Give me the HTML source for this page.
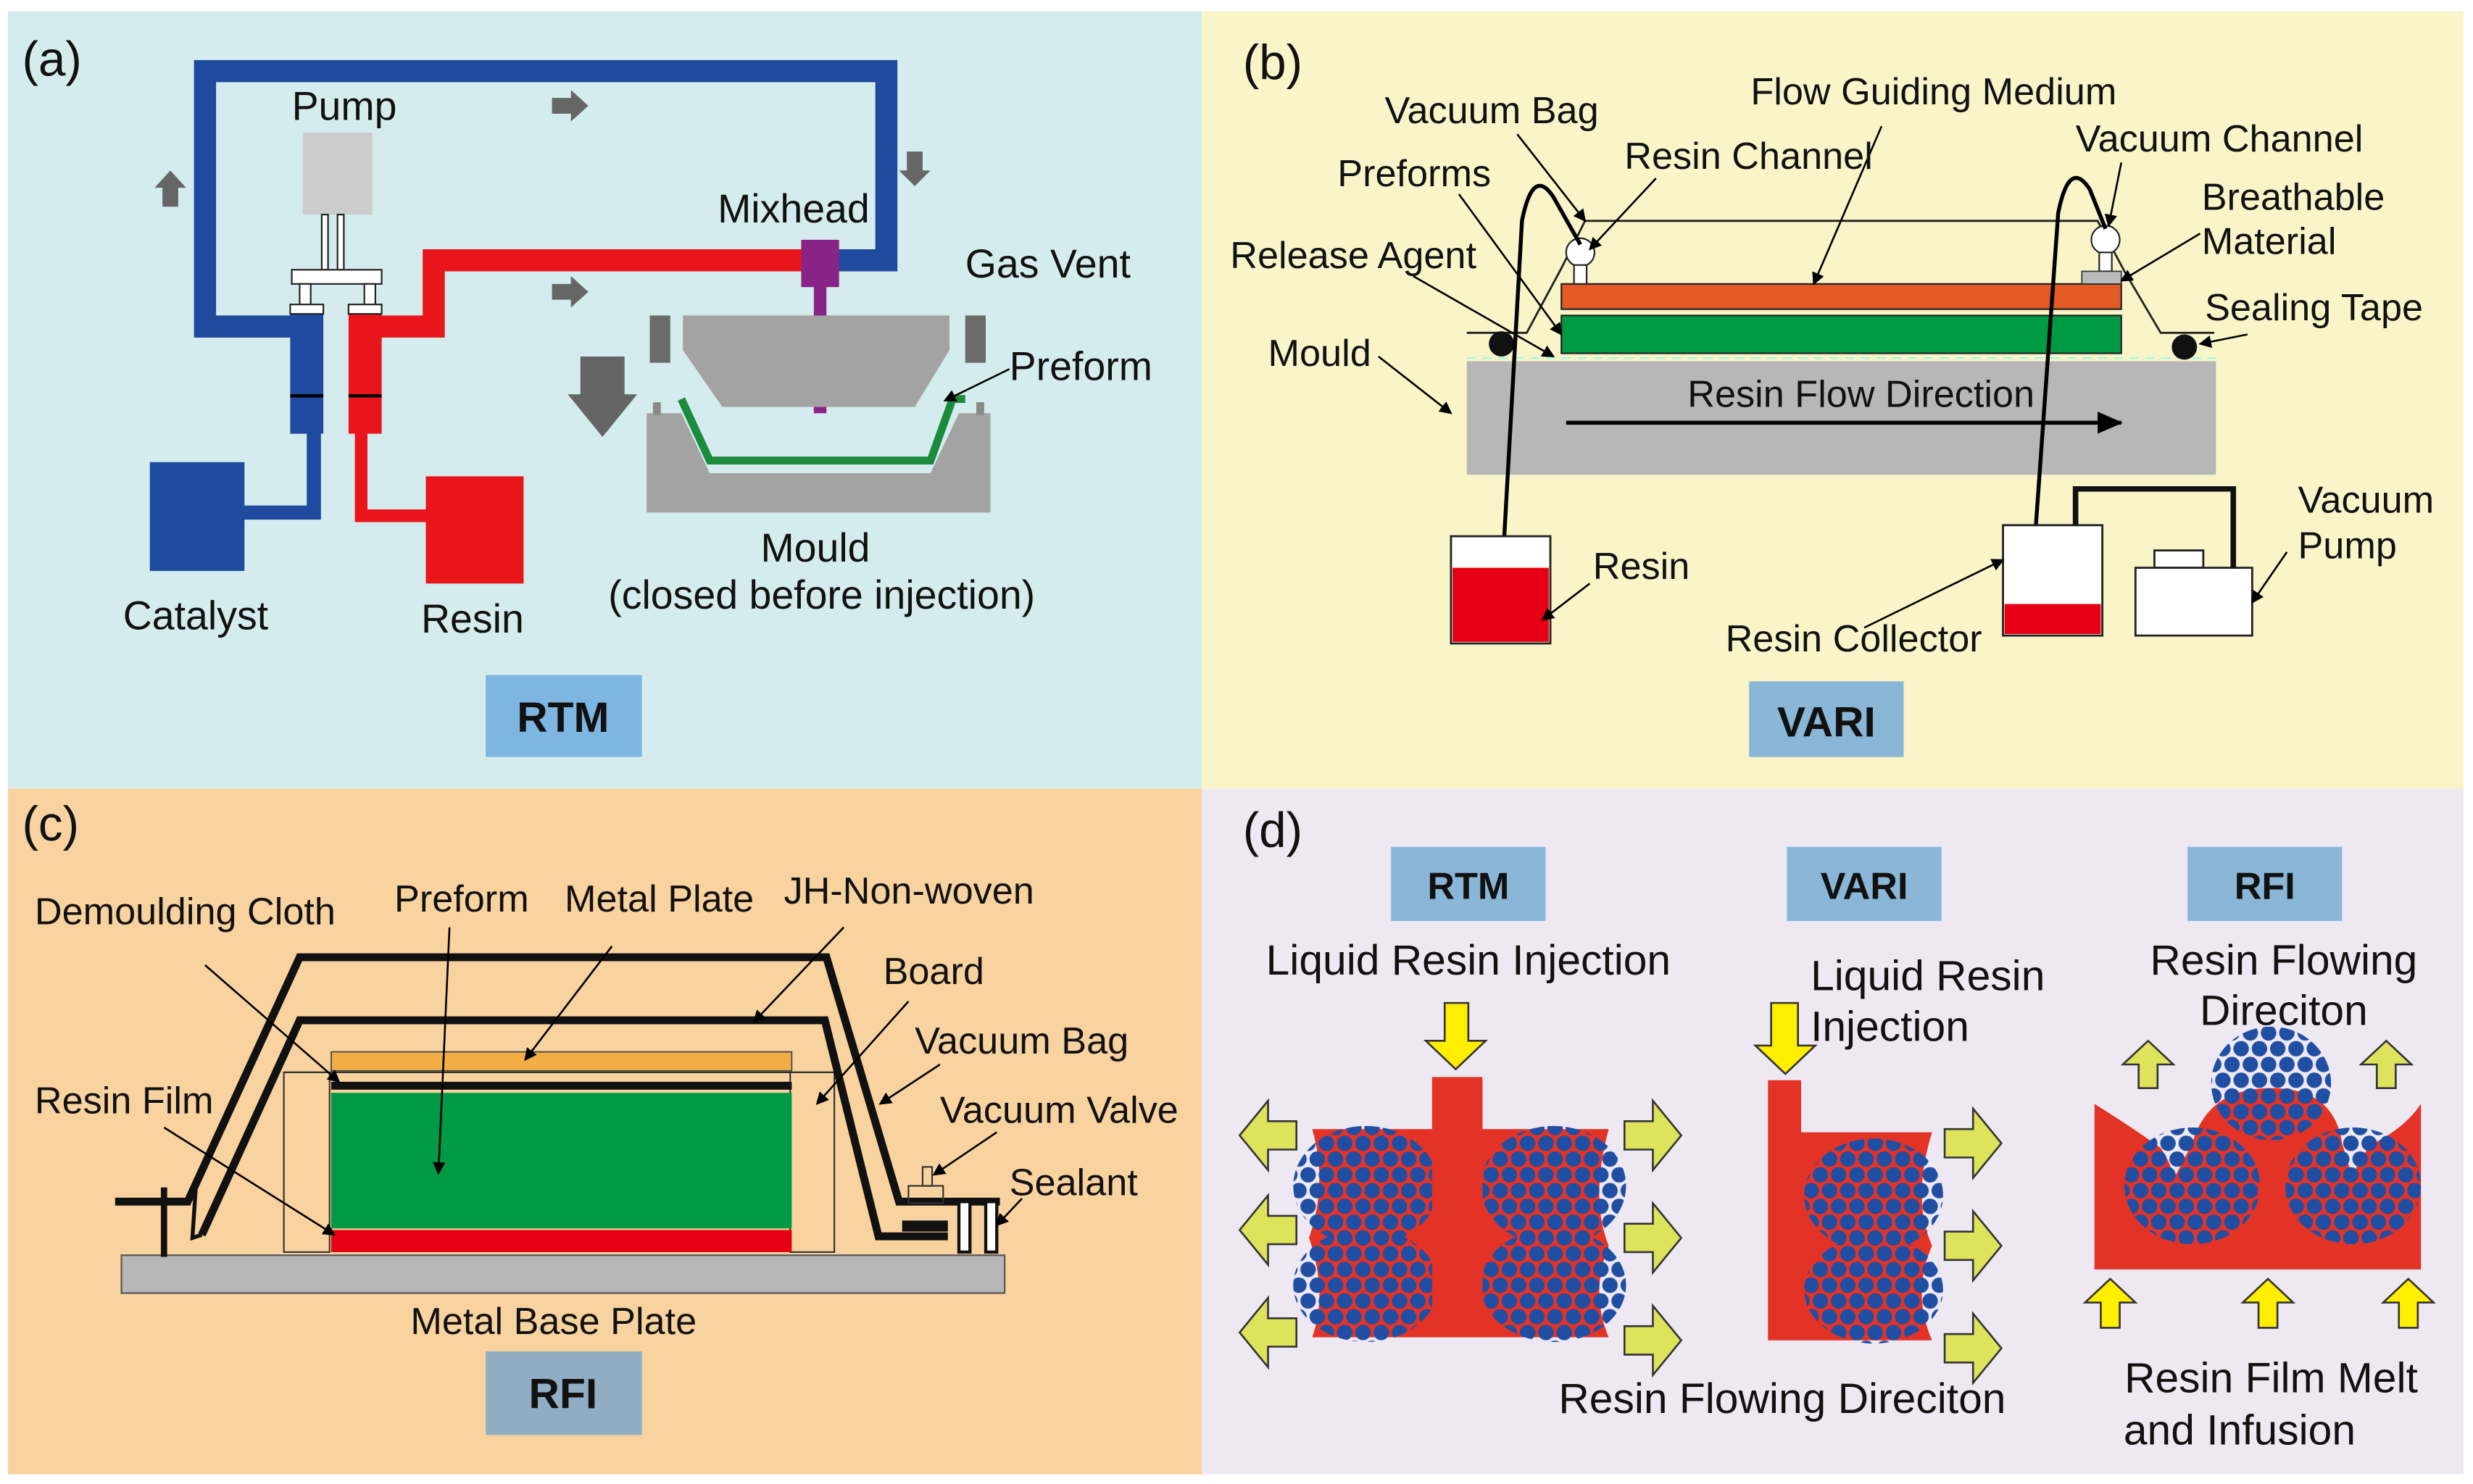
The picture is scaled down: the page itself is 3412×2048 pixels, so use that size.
<!DOCTYPE html>
<html><head><meta charset="utf-8"><style>
html,body{margin:0;padding:0;background:#fff}
svg{display:block}
text{font-family:"Liberation Sans",sans-serif;font-size:24px;fill:#111}
.a{font-size:25.5px}
.d{font-size:27px}
.b{font-weight:bold;font-size:27px}
.p{font-size:31px}
</style></head><body>
<svg width="3412" height="2048" viewBox="0 0 1568 941" xmlns="http://www.w3.org/2000/svg">
<defs>
<pattern id="fib" width="11.6" height="20" patternUnits="userSpaceOnUse">
<circle cx="5.8" cy="5" r="4.9" fill="#1f4ea3"/><circle cx="0" cy="15" r="4.9" fill="#1f4ea3"/><circle cx="11.6" cy="15" r="4.9" fill="#1f4ea3"/>
</pattern>
<marker id="ar" markerWidth="8" markerHeight="8" refX="7" refY="4" orient="auto" markerUnits="userSpaceOnUse"><path d="M0,0 L8,4 L0,8 z" fill="#000"/></marker>
<marker id="ar2" markerWidth="16" markerHeight="14" refX="15" refY="7" orient="auto" markerUnits="userSpaceOnUse"><path d="M0,0 L16,7 L0,14 z" fill="#000"/></marker>
<g id="yl"><path d="M0,-9 L18,-9 L18,-22 L36,0 L18,22 L18,9 L0,9 z" fill="#dde35a" stroke="#333" stroke-width="1.2"/></g>
</defs>
<rect width="1568" height="941" fill="#fff"/>
<rect x="5" y="7" width="757" height="493" fill="#d5ecee"/>
<rect x="762" y="7" width="800" height="493" fill="#faf4c9"/>
<rect x="5" y="500" width="757" height="435" fill="#f9d39f"/>
<rect x="762" y="500" width="800" height="435" fill="#eee8f3"/>

<!-- Panel a -->
<text x="14" y="48" class="p">(a)</text>
<path d="M190 207 H130 V45 H562 V165 H530" fill="none" stroke="#1f4a9e" stroke-width="14"/>
<path d="M232 207 H275 V165 H512" fill="none" stroke="#e8161b" stroke-width="14"/>
<path d="M199 270 V325 H150" fill="none" stroke="#1f4a9e" stroke-width="9"/>
<path d="M229 270 V327 H275" fill="none" stroke="#e8161b" stroke-width="8"/>
<rect x="95" y="293" width="60" height="69" fill="#1f4a9e"/>
<rect x="270" y="302" width="62" height="68" fill="#e8161b"/>
<rect x="184" y="198" width="21" height="77" fill="#1f4a9e"/>
<rect x="221" y="198" width="21" height="77" fill="#e8161b"/>
<line x1="184" y1="251" x2="205" y2="251" stroke="#000" stroke-width="2"/>
<line x1="221" y1="251" x2="242" y2="251" stroke="#000" stroke-width="2"/>
<rect x="192" y="84" width="44" height="52" fill="#cccccc"/>
<g fill="#fff" stroke="#222" stroke-width="1">
<rect x="204" y="136" width="4" height="35"/><rect x="214" y="136" width="4" height="35"/>
<rect x="185" y="171" width="57" height="9"/>
<rect x="190" y="180" width="7" height="13"/><rect x="231" y="180" width="7" height="13"/>
<rect x="184" y="193" width="21" height="6"/><rect x="221" y="193" width="21" height="6"/>
</g>
<rect x="516" y="180" width="8" height="82" fill="#8a2386"/>
<rect x="508" y="152" width="24" height="30" fill="#8a2386"/>
<path d="M433 200 H602 V222 L580 258 H458 L433 222 z" fill="#a3a3a3"/>
<rect x="412" y="200" width="13" height="30" fill="#6b6b6b"/>
<rect x="612" y="200" width="13" height="30" fill="#6b6b6b"/>
<path d="M410 262 H432 L450 300 H590 L608 262 H628 V325 H410 z" fill="#a3a3a3"/>
<rect x="414" y="255" width="5" height="8" fill="#8a8a8a"/><rect x="619" y="255" width="5" height="8" fill="#8a8a8a"/>
<polyline points="432,253 450,292 590,292 604,253 612,253" fill="none" stroke="#1c8b3e" stroke-width="5"/>
<path d="M368 226 H396 V250 H404 L382 277 L360 250 H368 z" fill="#656565"/>
<path d="M350 62 H362 V57 L373 67 L362 77 V72 H350 z" fill="#666"/>
<path d="M350 180 H362 V175 L373 185 L362 195 V190 H350 z" fill="#666"/>
<path d="M103 131 V119 H98 L108 108 L118 119 H113 V131 z" fill="#666"/>
<path d="M575 96 V108 H570 L580 118 L590 108 H585 V96 z" fill="#666"/>
<text x="185" y="76" class="a">Pump</text>
<text x="455" y="141" class="a">Mixhead</text>
<text x="612" y="176" class="a">Gas Vent</text>
<text x="640" y="241" class="a">Preform</text>
<line x1="640" y1="234" x2="599" y2="254" stroke="#000" stroke-width="1.2" marker-end="url(#ar)"/>
<text x="517" y="356" text-anchor="middle" class="a">Mould</text>
<text x="521" y="386" text-anchor="middle" class="a">(closed before injection)</text>
<text x="78" y="399" class="a">Catalyst</text>
<text x="267" y="401" class="a">Resin</text>
<rect x="308" y="428" width="99" height="52" fill="#7db6e0"/>
<text x="357" y="464" class="b" text-anchor="middle">RTM</text>

<!-- Panel b -->
<text x="788" y="50" class="p">(b)</text>
<rect x="930" y="229" width="475" height="72" fill="#b7b7b7"/>
<line x1="930" y1="227" x2="1405" y2="227" stroke="#9fd" stroke-width="1" stroke-dasharray="6 4"/>
<line x1="993" y1="268" x2="1345" y2="268" stroke="#000" stroke-width="2.5" marker-end="url(#ar2)"/>
<text x="1180" y="258" text-anchor="middle">Resin Flow Direction</text>
<rect x="990" y="200" width="355" height="24" fill="#009944" stroke="#222" stroke-width="1"/>
<rect x="990" y="180" width="355" height="16" fill="#e35a27" stroke="#222" stroke-width="1"/>
<path d="M930 211 H968 L990 170 L1005 140 H1330 L1347 172 L1370 211 H1404" fill="none" stroke="#222" stroke-width="1.3"/>
<circle cx="952" cy="218" r="8" fill="#111"/>
<circle cx="1385" cy="220" r="8" fill="#111"/>
<circle cx="1002" cy="160" r="9" fill="#fff" stroke="#222"/><rect x="998" y="168" width="8" height="12" fill="#fff" stroke="#222"/>
<circle cx="1335" cy="152" r="9" fill="#fff" stroke="#222"/><rect x="1331" y="160" width="8" height="12" fill="#fff" stroke="#222"/>
<rect x="1320" y="172" width="25" height="8" fill="#bbb" stroke="#333" stroke-width="0.8"/>
<path d="M952 372 L965 140 Q972 105 985 125 L1002 155" fill="none" stroke="#000" stroke-width="2.5"/>
<path d="M1290 345 L1305 135 Q1312 100 1325 120 L1335 145" fill="none" stroke="#000" stroke-width="2.5"/>
<rect x="920" y="340" width="63" height="68" fill="#fff" stroke="#222" stroke-width="1.3"/>
<rect x="921" y="360" width="61" height="47" fill="#e60012"/>
<rect x="1270" y="333" width="63" height="70" fill="#fff" stroke="#222" stroke-width="1.3"/>
<rect x="1271" y="383" width="61" height="19" fill="#e60012"/>
<rect x="1366" y="349" width="31" height="11" fill="#fff" stroke="#222" stroke-width="1.3"/>
<rect x="1354" y="360" width="74" height="43" fill="#fff" stroke="#222" stroke-width="1.3"/>
<path d="M1316 333 V310 H1416 V360" fill="none" stroke="#111" stroke-width="3.5"/>
<g stroke="#000" stroke-width="1.2" fill="none" marker-end="url(#ar)">
<line x1="962" y1="85" x2="1005" y2="140"/>
<line x1="1050" y1="113" x2="1008" y2="158"/>
<line x1="1193" y1="80" x2="1150" y2="180"/>
<line x1="1345" y1="103" x2="1337" y2="143"/>
<line x1="1395" y1="148" x2="1345" y2="178"/>
<line x1="925" y1="123" x2="990" y2="212"/>
<line x1="896" y1="175" x2="985" y2="226"/>
<line x1="1425" y1="212" x2="1395" y2="218"/>
<line x1="874" y1="226" x2="920" y2="262"/>
<line x1="1008" y1="370" x2="978" y2="393"/>
<line x1="1450" y1="350" x2="1428" y2="382"/>
<line x1="1182" y1="398" x2="1270" y2="355"/>
</g>
<text x="878" y="78">Vacuum Bag</text>
<text x="1110" y="66">Flow Guiding Medium</text>
<text x="1030" y="107">Resin Channel</text>
<text x="1316" y="96">Vacuum Channel</text>
<text x="848" y="118">Preforms</text>
<text x="1396" y="133">Breathable</text>
<text x="1396" y="161">Material</text>
<text x="780" y="170">Release Agent</text>
<text x="1398" y="203">Sealing Tape</text>
<text x="804" y="232">Mould</text>
<text x="1010" y="367">Resin</text>
<text x="1457" y="325">Vacuum</text>
<text x="1457" y="354">Pump</text>
<text x="1094" y="413">Resin Collector</text>
<rect x="1109" y="432" width="98" height="48" fill="#8ab7d8"/>
<text x="1158" y="467" class="b" text-anchor="middle">VARI</text>

<!-- Panel c -->
<text x="14" y="533" class="p">(c)</text>
<rect x="77" y="796" width="560" height="24" fill="#b7b7b7" stroke="#555" stroke-width="1"/>
<rect x="180" y="680" width="29" height="114" fill="none" stroke="#333" stroke-width="1"/>
<rect x="501" y="680" width="28" height="114" fill="none" stroke="#333" stroke-width="1"/>
<line x1="180" y1="680" x2="529" y2="680" stroke="#333" stroke-width="1"/>
<rect x="210" y="667" width="292" height="12" fill="#f3ad45" stroke="#444" stroke-width="0.8"/>
<rect x="210" y="686" width="292" height="5" fill="#111"/>
<rect x="210" y="693" width="292" height="86" fill="#009944"/>
<rect x="210" y="780" width="292" height="14" fill="#e60012"/>
<path d="M73 762 H119 L190 607 H524 L570 762 H634" fill="none" stroke="#111" stroke-width="5"/>
<path d="M128 783 L190 647 H523 L557 784 H601" fill="none" stroke="#111" stroke-width="5"/>
<path d="M119 762 L124 755 L122 785 L128 783" fill="none" stroke="#111" stroke-width="2.5"/>
<line x1="104" y1="753" x2="104" y2="797" stroke="#111" stroke-width="4"/>
<rect x="608" y="762" width="7" height="32" fill="#fff" stroke="#111" stroke-width="2"/>
<rect x="625" y="762" width="7" height="32" fill="#fff" stroke="#111" stroke-width="2"/>
<rect x="576" y="752" width="22" height="11" fill="none" stroke="#333" stroke-width="1"/>
<rect x="585" y="740" width="6" height="12" fill="none" stroke="#333" stroke-width="1"/>
<rect x="572" y="774" width="29" height="7" fill="#111"/>
<g stroke="#000" stroke-width="1.2" fill="none" marker-end="url(#ar)">
<line x1="130" y1="612" x2="215" y2="686"/>
<line x1="285" y1="588" x2="278" y2="744"/>
<line x1="388" y1="600" x2="333" y2="672"/>
<line x1="535" y1="588" x2="478" y2="648"/>
<line x1="576" y1="635" x2="518" y2="700"/>
<line x1="596" y1="675" x2="558" y2="700"/>
<line x1="632" y1="718" x2="592" y2="745"/>
<line x1="648" y1="760" x2="632" y2="777"/>
<line x1="104" y1="715" x2="212" y2="783"/>
</g>
<text x="22" y="586">Demoulding Cloth</text>
<text x="250" y="578">Preform</text>
<text x="358" y="578">Metal Plate</text>
<text x="497" y="573">JH-Non-woven</text>
<text x="560" y="624">Board</text>
<text x="580" y="668">Vacuum Bag</text>
<text x="596" y="712">Vacuum Valve</text>
<text x="22" y="706">Resin Film</text>
<text x="640" y="758">Sealant</text>
<text x="351" y="846" text-anchor="middle">Metal Base Plate</text>
<rect x="308" y="857" width="99" height="53" fill="#91adc4"/>
<text x="357" y="893" class="b" text-anchor="middle">RFI</text>

<!-- Panel d -->
<text x="788" y="537" class="p">(d)</text>
<rect x="882" y="537" width="98" height="47" fill="#8ab7d8"/><text x="931" y="570" class="b" text-anchor="middle" style="font-size:24px">RTM</text>
<rect x="1133" y="537" width="98" height="47" fill="#8ab7d8"/><text x="1182" y="570" class="b" text-anchor="middle" style="font-size:24px">VARI</text>
<rect x="1387" y="537" width="98" height="47" fill="#8ab7d8"/><text x="1436" y="570" class="b" text-anchor="middle" style="font-size:24px">RFI</text>
<text x="931" y="618" text-anchor="middle" class="d">Liquid Resin Injection</text>
<text x="1148" y="628" class="d">Liquid Resin</text>
<text x="1148" y="660" class="d">Injection</text>
<text x="1448" y="618" text-anchor="middle" class="d">Resin Flowing</text>
<text x="1448" y="650" text-anchor="middle" class="d">Direciton</text>
<text x="1130" y="896" text-anchor="middle" class="d">Resin Flowing Direciton</text>
<text x="1440" y="883" text-anchor="middle" class="d">Resin Film Melt</text>
<text x="1420" y="916" text-anchor="middle" class="d">and Infusion</text>

<!-- RTM d -->
<path d="M832 716 H908 V683 H940 V716 H1020 Q1008 760 1020 790 Q1008 820 1020 848 H832 Q842 820 830 785 Q842 750 832 716 z" fill="#e33326"/>
<ellipse cx="866" cy="752" rx="46" ry="38" fill="url(#fib)"/>
<ellipse cx="866" cy="815" rx="46" ry="36" fill="url(#fib)"/>
<ellipse cx="985" cy="752" rx="46" ry="38" fill="url(#fib)"/>
<ellipse cx="985" cy="815" rx="46" ry="36" fill="url(#fib)"/>
<rect x="908" y="716" width="32" height="132" fill="#e33326"/>
<path d="M916 636 H931 V660 H942 L923 678 L904 660 H916 z" fill="#ffee00" stroke="#333" stroke-width="1.2"/>
<use href="#yl" transform="translate(822,720) scale(-1,1)"/>
<use href="#yl" transform="translate(822,780) scale(-1,1)"/>
<use href="#yl" transform="translate(822,845) scale(-1,1)"/>
<use href="#yl" transform="translate(1030,720)"/>
<use href="#yl" transform="translate(1030,785)"/>
<use href="#yl" transform="translate(1030,850)"/>

<!-- VARI d -->
<path d="M1121 685 H1142 V718 H1225 Q1212 760 1225 790 Q1212 820 1225 850 H1121 z" fill="#e33326"/>
<ellipse cx="1188" cy="758" rx="44" ry="36" fill="url(#fib)"/>
<ellipse cx="1188" cy="818" rx="44" ry="34" fill="url(#fib)"/>
<path d="M1123 636 H1140 V663 H1151 L1132 681 L1113 663 H1123 z" fill="#ffee00" stroke="#333" stroke-width="1.2"/>
<use href="#yl" transform="translate(1233,725)"/>
<use href="#yl" transform="translate(1233,790)"/>
<use href="#yl" transform="translate(1233,855)"/>

<!-- RFI d -->
<path d="M1328 700 Q1352 715 1370 728 Q1378 740 1378 748 L1390 725 Q1400 690 1440 690 Q1480 690 1485 725 L1492 748 Q1494 735 1505 725 Q1525 715 1535 700 V805 H1328 z" fill="#e33326"/>
<ellipse cx="1440" cy="687" rx="38" ry="36" fill="url(#fib)"/>
<ellipse cx="1390" cy="752" rx="43" ry="37" fill="url(#fib)"/>
<ellipse cx="1492" cy="752" rx="43" ry="37" fill="url(#fib)"/>
<path d="M1356 690 V675 H1346 L1362 660 L1378 675 H1368 V690 z" fill="#dde35a" stroke="#333" stroke-width="1.2"/>
<path d="M1507 690 V675 H1497 L1513 660 L1529 675 H1519 V690 z" fill="#dde35a" stroke="#333" stroke-width="1.2"/>
<path d="M1332 842 V826 H1322 L1338 811 L1354 826 H1344 V842 z" fill="#ffee00" stroke="#333" stroke-width="1.2"/>
<path d="M1432 842 V826 H1422 L1438 811 L1454 826 H1444 V842 z" fill="#ffee00" stroke="#333" stroke-width="1.2"/>
<path d="M1521 842 V826 H1511 L1527 811 L1543 826 H1533 V842 z" fill="#ffee00" stroke="#333" stroke-width="1.2"/>
</svg>
</body></html>
